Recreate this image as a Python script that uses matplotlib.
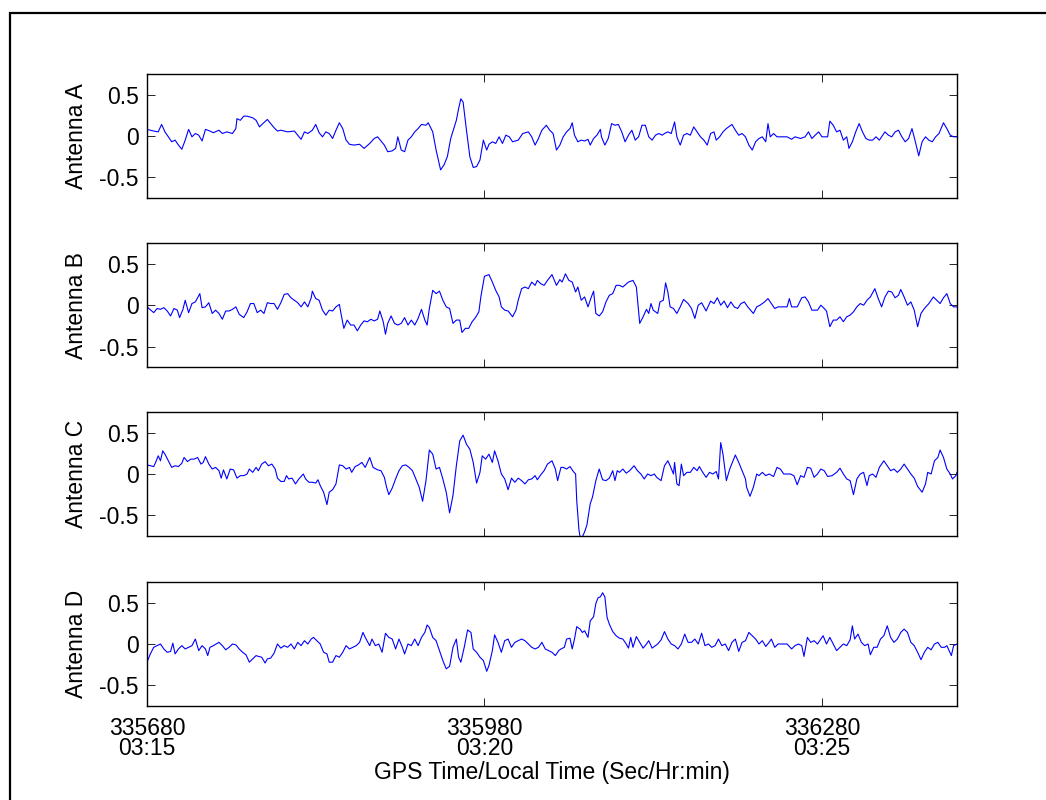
import matplotlib
matplotlib.use("Agg")
import matplotlib.pyplot as plt
from matplotlib.patches import Rectangle

plt.rcParams['font.family'] = ['Liberation Sans', 'DejaVu Sans']

# GPS seconds of the first sample; series times are offsets from it
t_start = 335680
t_span = 720

gps_ticks = [335680, 335980, 336280]
local_ticks = ['03:15', '03:20', '03:25']
antennas = ['Antenna A', 'Antenna B', 'Antenna C', 'Antenna D']

a_t = [0, 6, 10, 13, 16, 19, 22, 25, 28, 31,
       34, 37, 40, 43, 46, 49, 52, 56, 59, 64,
       67, 71, 76, 79, 80, 83, 86, 89, 94, 97,
       100, 103, 107, 110, 113, 116, 119, 125, 131, 134,
       137, 140, 143, 147, 150, 153, 156, 159, 162, 165,
       168, 171, 174, 177, 180, 184, 189, 193, 198, 202,
       205, 208, 211, 214, 218, 221, 223, 226, 229, 232,
       235, 238, 241, 244, 248, 250, 254, 257, 261, 264,
       267, 270, 275, 277, 279, 281, 284, 287, 290, 293,
       296, 299, 302, 304, 307, 310, 313, 316, 319, 322,
       325, 330, 334, 339, 342, 345, 348, 351, 355, 358,
       361, 364, 367, 370, 373, 376, 378, 380, 383, 386,
       389, 392, 394, 397, 400, 403, 404, 407, 410, 413,
       416, 419, 422, 425, 428, 431, 434, 437, 440, 443,
       446, 449, 452, 455, 458, 460, 463, 466, 469, 471,
       474, 477, 480, 483, 486, 489, 492, 495, 498, 501,
       504, 506, 509, 512, 515, 520, 523, 526, 529, 532,
       535, 538, 541, 544, 547, 550, 552, 554, 557, 560,
       563, 569, 573, 576, 581, 585, 588, 591, 594, 597,
       600, 605, 607, 610, 613, 616, 619, 622, 624, 627,
       630, 633, 636, 639, 642, 645, 648, 651, 653, 656,
       659, 662, 665, 668, 671, 674, 677, 680, 683, 686,
       689, 692, 695, 698, 701, 704, 708, 711, 714, 717,
       720]
a_v = [0.08, 0.06, 0.05, 0.14, 0.05, -0.01, -0.07, -0.05, -0.11, -0.16,
       -0.05, 0.08, -0.01, 0.03, 0.01, -0.06, 0.08, 0.06, 0.04, 0.07,
       0.03, 0.05, 0.03, 0.09, 0.21, 0.19, 0.24, 0.24, 0.22, 0.19,
       0.11, 0.15, 0.20, 0.15, 0.10, 0.06, 0.07, 0.05, 0.06, 0.01,
       -0.04, 0.05, 0.03, 0.07, 0.14, 0.04, -0.01, 0.05, 0.03, -0.03,
       0.07, 0.16, 0.09, -0.05, -0.10, -0.11, -0.10, -0.15, -0.09, -0.03,
       -0.01, -0.06, -0.11, -0.19, -0.18, -0.15, -0.01, -0.17, -0.19, -0.05,
       -0.01, 0.05, 0.09, 0.14, 0.13, 0.16, 0.05, -0.17, -0.41, -0.35,
       -0.25, -0.03, 0.19, 0.33, 0.45, 0.41, 0.07, -0.25, -0.38, -0.37,
       -0.29, -0.05, -0.17, -0.10, -0.07, -0.09, -0.01, -0.09, 0.01, -0.01,
       -0.07, -0.05, 0.03, 0.05, -0.01, -0.11, -0.03, 0.07, 0.13, 0.07,
       0.03, -0.17, -0.11, -0.01, 0.05, 0.09, 0.16, 0.01, -0.07, -0.05,
       -0.06, -0.04, -0.11, -0.03, 0.01, 0.08, -0.01, -0.11, -0.03, 0.15,
       0.13, 0.14, 0.05, -0.07, 0.01, 0.07, -0.05, -0.01, 0.13, 0.13,
       -0.01, -0.05, 0.01, 0.03, 0.01, 0.03, 0.05, 0.03, 0.17, -0.01,
       -0.11, 0.01, 0.03, 0.01, 0.11, 0.05, -0.01, -0.05, -0.11, 0.03,
       0.05, -0.05, -0.01, 0.05, 0.09, 0.14, 0.07, 0.01, 0.03, -0.01,
       -0.11, -0.17, -0.07, -0.03, -0.01, -0.07, 0.15, -0.01, 0.03, -0.01,
       -0.01, -0.01, -0.04, -0.01, -0.03, -0.01, 0.05, -0.03, 0.01, 0.05,
       -0.01, -0.01, 0.18, 0.13, 0.05, 0.07, -0.05, -0.01, -0.15, -0.07,
       0.05, 0.15, 0.05, -0.03, -0.05, -0.05, -0.01, -0.05, -0.01, 0.05,
       0.01, -0.01, 0.05, 0.07, -0.01, -0.07, -0.03, 0.09, -0.07, -0.24,
       -0.07, -0.01, -0.05, -0.07, -0.01, 0.03, 0.16, 0.09, 0.01, -0.01,
       -0.01]

b_t = [0, 6, 9, 12, 15, 18, 21, 24, 27, 29,
       32, 34, 37, 40, 43, 47, 49, 52, 55, 58,
       61, 64, 67, 70, 73, 76, 79, 82, 86, 89,
       92, 95, 98, 101, 104, 107, 110, 113, 116, 119,
       122, 125, 128, 131, 134, 137, 140, 143, 146, 147,
       150, 153, 156, 159, 162, 165, 168, 171, 173, 175,
       178, 181, 184, 187, 190, 193, 196, 199, 202, 205,
       207, 210, 212, 214, 217, 220, 223, 226, 229, 232,
       235, 238, 241, 244, 247, 249, 251, 254, 257, 260,
       263, 266, 269, 272, 275, 278, 280, 283, 286, 289,
       292, 295, 297, 300, 304, 307, 310, 313, 315, 318,
       321, 325, 328, 330, 333, 336, 339, 342, 345, 347,
       350, 353, 356, 360, 364, 367, 369, 372, 375, 378,
       381, 383, 386, 389, 392, 395, 397, 399, 402, 405,
       408, 411, 414, 417, 420, 423, 428, 432, 435, 438,
       441, 444, 446, 448, 450, 454, 456, 459, 461, 463,
       465, 468, 471, 474, 477, 481, 484, 487, 490, 493,
       497, 501, 504, 507, 510, 513, 516, 519, 522, 525,
       528, 531, 534, 539, 542, 545, 549, 552, 555, 558,
       561, 569, 571, 573, 578, 582, 585, 588, 591, 596,
       599, 602, 604, 607, 610, 613, 616, 619, 622, 625,
       628, 631, 634, 637, 640, 643, 647, 650, 653, 656,
       659, 662, 665, 668, 670, 673, 676, 679, 682, 685,
       688, 691, 695, 699, 702, 705, 708, 711, 714, 717,
       720]
b_v = [-0.02, -0.09, -0.04, -0.05, -0.03, -0.07, -0.13, -0.04, -0.06, -0.15,
       -0.05, 0.06, -0.09, 0.02, 0.04, 0.14, -0.03, -0.02, 0.03, -0.10,
       -0.06, -0.10, -0.17, -0.07, -0.07, -0.05, -0.02, -0.11, -0.15, -0.08,
       0.02, 0.02, -0.09, -0.06, -0.10, 0.03, 0.02, 0.02, -0.05, 0.03,
       0.13, 0.14, 0.09, 0.06, 0.03, -0.02, 0.04, -0.02, 0.09, 0.17,
       0.08, 0.06, -0.06, -0.12, -0.06, -0.07, -0.02, 0.01, -0.14, -0.28,
       -0.18, -0.24, -0.24, -0.31, -0.24, -0.19, -0.20, -0.17, -0.19, -0.17,
       -0.07, -0.20, -0.35, -0.22, -0.13, -0.22, -0.24, -0.22, -0.15, -0.24,
       -0.18, -0.24, -0.16, -0.05, -0.18, -0.24, -0.04, 0.18, 0.14, 0.17,
       0.06, -0.02, -0.04, -0.22, -0.18, -0.18, -0.33, -0.28, -0.28, -0.20,
       -0.15, -0.08, 0.12, 0.35, 0.37, 0.28, 0.18, 0.10, -0.02, -0.06,
       -0.07, -0.14, -0.06, 0.06, 0.20, 0.22, 0.20, 0.28, 0.24, 0.30,
       0.26, 0.24, 0.30, 0.37, 0.24, 0.31, 0.28, 0.38, 0.30, 0.28,
       0.16, 0.22, 0.06, 0.10, -0.02, 0.10, 0.17, -0.10, -0.13, -0.08,
       0.04, 0.12, 0.14, 0.24, 0.24, 0.22, 0.28, 0.30, 0.22, -0.22,
       -0.14, -0.05, -0.10, 0.02, -0.06, -0.10, 0.04, 0.06, 0.27, 0.16,
       -0.02, -0.04, -0.10, -0.02, 0.07, 0.02, -0.04, -0.16, 0.00, 0.03,
       -0.07, 0.05, 0.02, 0.09, 0.00, 0.05, -0.03, 0.04, -0.02, -0.04,
       0.02, 0.04, -0.02, -0.10, -0.02, 0.00, 0.04, 0.08, 0.02, -0.04,
       -0.02, -0.02, 0.08, -0.02, -0.02, 0.09, 0.10, 0.04, -0.06, -0.06,
       0.00, -0.04, -0.07, -0.26, -0.18, -0.18, -0.14, -0.20, -0.14, -0.12,
       -0.08, -0.02, 0.02, 0.00, 0.06, 0.10, 0.20, 0.08, -0.02, 0.10,
       0.17, 0.16, 0.09, 0.12, 0.19, 0.10, 0.00, 0.04, -0.06, -0.26,
       -0.10, -0.04, 0.02, 0.10, 0.06, 0.02, 0.09, 0.14, 0.02, -0.02,
       -0.02]

c_t = [0, 6, 8, 10, 12, 14, 16, 19, 22, 25,
       28, 31, 33, 36, 39, 42, 45, 48, 50, 52,
       55, 58, 61, 64, 66, 68, 71, 74, 77, 80,
       83, 86, 89, 91, 94, 97, 99, 102, 105, 108,
       111, 114, 116, 119, 122, 124, 126, 129, 132, 135,
       139, 141, 144, 147, 150, 152, 154, 157, 160, 162,
       165, 168, 171, 174, 177, 180, 182, 185, 188, 191,
       194, 196, 198, 201, 205, 208, 211, 213, 215, 218,
       221, 224, 227, 230, 233, 236, 239, 242, 245, 248,
       251, 254, 257, 260, 263, 266, 269, 272, 275, 278,
       281, 284, 287, 290, 293, 296, 298, 301, 304, 307,
       309, 312, 315, 318, 321, 324, 327, 330, 333, 336,
       339, 342, 345, 347, 350, 353, 356, 360, 363, 365,
       368, 370, 373, 376, 379, 381, 382, 384, 385, 387,
       389, 391, 394, 396, 399, 402, 405, 408, 411, 414,
       416, 418, 420, 423, 426, 429, 433, 436, 439, 442,
       445, 448, 451, 453, 457, 460, 463, 465, 468, 469,
       471, 473, 475, 477, 480, 483, 486, 489, 491, 494,
       497, 500, 503, 506, 508, 510, 512, 515, 518, 521,
       523, 526, 529, 532, 533, 536, 539, 542, 544, 547,
       550, 553, 557, 560, 563, 566, 569, 572, 575, 578,
       581, 584, 587, 590, 593, 596, 599, 602, 605, 609,
       613, 616, 619, 622, 625, 628, 631, 634, 637, 640,
       642, 645, 648, 651, 655, 658, 661, 664, 667, 670,
       673, 676, 679, 682, 685, 689, 692, 694, 697, 700,
       703, 705, 708, 711, 714, 716, 719, 720]
c_v = [0.11, 0.09, 0.15, 0.22, 0.16, 0.28, 0.24, 0.16, 0.08, 0.10,
       0.09, 0.13, 0.20, 0.15, 0.18, 0.18, 0.20, 0.12, 0.14, 0.21,
       0.12, 0.06, 0.08, 0.04, -0.05, 0.05, -0.06, 0.06, 0.05, -0.05,
       -0.02, -0.02, 0.00, 0.06, 0.02, 0.08, 0.04, 0.12, 0.15, 0.10,
       0.12, 0.06, -0.05, -0.09, -0.09, -0.02, -0.06, -0.05, -0.12, -0.06,
       0.00, -0.06, -0.10, -0.10, -0.11, -0.07, -0.14, -0.22, -0.37, -0.22,
       -0.19, -0.12, 0.11, 0.10, 0.06, 0.08, 0.02, 0.09, 0.11, 0.14,
       0.08, 0.14, 0.20, 0.08, 0.05, 0.04, -0.04, -0.16, -0.25, -0.17,
       -0.06, 0.04, 0.10, 0.11, 0.08, 0.04, -0.06, -0.16, -0.33, -0.08,
       0.29, 0.24, 0.06, 0.08, -0.06, -0.22, -0.47, -0.26, 0.10, 0.40,
       0.47, 0.36, 0.30, 0.14, -0.11, 0.02, 0.22, 0.18, 0.24, 0.14,
       0.28, 0.16, 0.00, -0.06, -0.19, -0.05, -0.10, -0.05, -0.08, -0.12,
       -0.07, -0.06, -0.02, -0.07, -0.01, 0.04, 0.12, 0.16, 0.06, -0.08,
       0.08, 0.08, 0.06, 0.09, 0.03, 0.00, -0.32, -0.68, -0.76, -0.76,
       -0.70, -0.62, -0.36, -0.28, -0.08, 0.06, -0.07, -0.08, -0.05, 0.04,
       -0.08, 0.04, 0.02, 0.06, 0.01, 0.04, 0.10, 0.04, 0.00, -0.06,
       0.00, -0.02, 0.00, -0.04, -0.08, 0.10, 0.16, 0.10, 0.00, 0.14,
       -0.12, -0.14, 0.12, -0.02, 0.02, 0.02, 0.08, 0.04, 0.09, 0.02,
       -0.04, 0.02, 0.00, 0.03, -0.06, 0.38, 0.24, -0.08, 0.06, 0.16,
       0.23, 0.14, 0.04, -0.06, -0.16, -0.27, -0.16, 0.00, -0.02, 0.02,
       -0.02, 0.00, -0.03, 0.08, 0.06, 0.00, 0.00, 0.00, -0.02, -0.13,
       -0.02, -0.04, 0.08, 0.07, -0.04, 0.00, 0.06, 0.04, -0.03, -0.02,
       0.02, 0.07, 0.00, -0.06, -0.08, -0.25, -0.06, 0.00, 0.02, -0.14,
       -0.02, 0.00, -0.04, 0.08, 0.16, 0.10, 0.04, 0.06, 0.02, 0.06,
       0.12, 0.06, 0.00, -0.05, -0.15, -0.22, -0.12, 0.02, 0.00, 0.16,
       0.20, 0.29, 0.20, 0.06, 0.00, -0.06, -0.02, 0.02]

d_t = [0, 3, 6, 9, 12, 15, 18, 21, 23, 25,
       28, 31, 34, 37, 40, 43, 46, 49, 52, 54,
       56, 59, 64, 67, 70, 73, 76, 79, 82, 85,
       88, 91, 94, 97, 99, 102, 105, 107, 110, 113,
       116, 119, 122, 125, 128, 131, 134, 137, 140, 143,
       146, 148, 151, 154, 157, 160, 162, 165, 168, 171,
       174, 177, 180, 183, 186, 189, 192, 194, 198, 200,
       203, 206, 209, 212, 215, 218, 221, 224, 227, 229,
       232, 235, 238, 241, 244, 247, 249, 251, 254, 257,
       260, 263, 266, 269, 272, 275, 277, 279, 282, 285,
       288, 290, 293, 296, 299, 302, 304, 307, 309, 312,
       315, 318, 321, 324, 327, 330, 333, 336, 339, 342,
       345, 348, 351, 354, 357, 360, 363, 366, 368, 371,
       373, 376, 378, 380, 382, 385, 387, 389, 392, 394,
       397, 399, 401, 403, 405, 407, 409, 411, 414, 417,
       420, 423, 426, 428, 430, 432, 435, 438, 441, 444,
       446, 449, 452, 454, 457, 460, 463, 466, 469, 472,
       475, 478, 481, 484, 487, 490, 493, 496, 499, 502,
       505, 508, 511, 514, 517, 520, 523, 526, 529, 532,
       535, 538, 541, 544, 547, 550, 553, 555, 558, 561,
       569, 573, 576, 579, 582, 584, 587, 590, 593, 596,
       599, 601, 604, 607, 610, 613, 616, 619, 622, 625,
       627, 629, 632, 635, 638, 641, 643, 646, 649, 652,
       655, 658, 661, 664, 667, 670, 673, 676, 679, 682,
       685, 688, 691, 694, 697, 700, 703, 706, 709, 711,
       715, 717, 720]
d_v = [-0.22, -0.12, -0.04, -0.02, 0.00, -0.06, -0.10, -0.09, 0.01, -0.12,
       -0.06, -0.02, -0.06, -0.04, -0.02, 0.06, -0.08, -0.02, -0.06, -0.14,
       -0.04, -0.02, 0.02, -0.02, -0.07, -0.04, 0.00, -0.01, -0.06, -0.10,
       -0.13, -0.22, -0.18, -0.14, -0.15, -0.16, -0.23, -0.18, -0.17, -0.11,
       0.00, -0.05, -0.02, -0.04, 0.00, -0.06, 0.02, -0.02, 0.04, 0.00,
       0.06, 0.08, 0.04, 0.00, -0.10, -0.12, -0.22, -0.22, -0.14, -0.16,
       -0.10, -0.02, -0.06, -0.04, -0.02, 0.02, 0.14, 0.08, -0.02, 0.06,
       -0.02, 0.00, -0.10, 0.13, 0.08, 0.06, -0.06, 0.06, -0.04, -0.12,
       0.00, -0.02, 0.06, -0.02, 0.08, 0.14, 0.23, 0.20, 0.08, 0.04,
       -0.08, -0.20, -0.30, -0.27, -0.04, 0.06, -0.16, -0.22, -0.04, 0.17,
       0.14, -0.06, -0.10, -0.16, -0.20, -0.33, -0.26, -0.08, 0.11, 0.02,
       -0.10, 0.04, 0.06, -0.04, 0.02, 0.04, 0.06, 0.04, 0.00, -0.04,
       -0.06, -0.04, 0.02, -0.06, -0.08, -0.10, -0.14, -0.08, -0.06, -0.04,
       0.06, 0.07, -0.06, 0.06, 0.21, 0.18, 0.14, 0.16, 0.08, 0.28,
       0.33, 0.49, 0.56, 0.57, 0.62, 0.57, 0.32, 0.24, 0.15, 0.10,
       0.07, 0.06, 0.00, -0.05, 0.08, -0.04, 0.09, 0.02, -0.05, 0.00,
       0.04, -0.05, -0.02, 0.00, 0.05, 0.15, 0.06, 0.00, -0.02, -0.06,
       0.00, 0.12, 0.02, 0.02, 0.06, 0.00, 0.13, -0.02, 0.00, -0.04,
       -0.02, 0.06, -0.02, 0.00, -0.08, 0.02, 0.06, -0.09, 0.02, 0.04,
       0.14, 0.10, 0.06, 0.00, 0.04, -0.03, 0.02, 0.06, -0.04, 0.00,
       0.00, -0.06, -0.02, 0.00, -0.02, -0.15, 0.08, 0.02, 0.04, 0.00,
       0.06, 0.10, 0.00, 0.08, 0.00, -0.08, -0.04, 0.00, -0.02, 0.05,
       0.22, 0.06, 0.12, 0.02, -0.02, 0.00, -0.13, -0.04, -0.04, 0.06,
       0.10, 0.22, 0.08, 0.02, 0.06, 0.14, 0.18, 0.14, 0.02, -0.02,
       -0.10, -0.19, -0.10, -0.04, -0.07, 0.00, 0.02, -0.04, -0.04, -0.02,
       -0.14, -0.02, 0.00]

series = [(a_t, a_v), (b_t, b_v), (c_t, c_v), (d_t, d_v)]

fig = plt.figure(figsize=(10.46, 8.0), dpi=100)

# figure frame as in the original export (only top and left edges fall inside)
fig.add_artist(Rectangle((10 / 1046, -0.2), 1.5, 1.2 - 13 / 800,
                         transform=fig.transFigure, fill=False,
                         edgecolor='black', linewidth=1.6))

bottoms = [0.7525, 0.541, 0.33, 0.1175]
for i, (ts, vs) in enumerate(series):
    ax = fig.add_axes([0.1405, bottoms[i], 0.7744, 0.155])
    ax.plot([t_start + t for t in ts], vs, color='blue', linewidth=0.8)
    ax.set_xlim(t_start, t_start + t_span)
    ax.set_ylim(-0.75, 0.75)
    ax.set_yticks([-0.5, 0, 0.5])
    ax.set_yticklabels(['-0.5', '0', '0.5'])
    ax.set_xticks(gps_ticks)
    if i == len(series) - 1:
        labels = [f'{g}\n{l}' for g, l in zip(gps_ticks, local_ticks)]
        ax.set_xticklabels(labels)
        for lab in ax.get_xticklabels():
            lab.set_linespacing(0.85)
    else:
        ax.set_xticklabels([])
    ax.tick_params(direction='in', length=5.8, width=0.6, top=True, right=True,
                   labelsize=16.5)
    ax.tick_params(axis='x', pad=8)
    ax.tick_params(axis='y', pad=6)
    for sp in ax.spines.values():
        sp.set_linewidth(1.0)
    ax.set_ylabel(antennas[i], fontsize=16.5)
    ax.yaxis.set_label_coords(-0.073, 0.5)

fig.text(552 / 1046, 1 - 773 / 800, 'GPS Time/Local Time (Sec/Hr:min)',
         ha='center', va='center', fontsize=16.5)

fig.savefig('out.png', dpi=100)
